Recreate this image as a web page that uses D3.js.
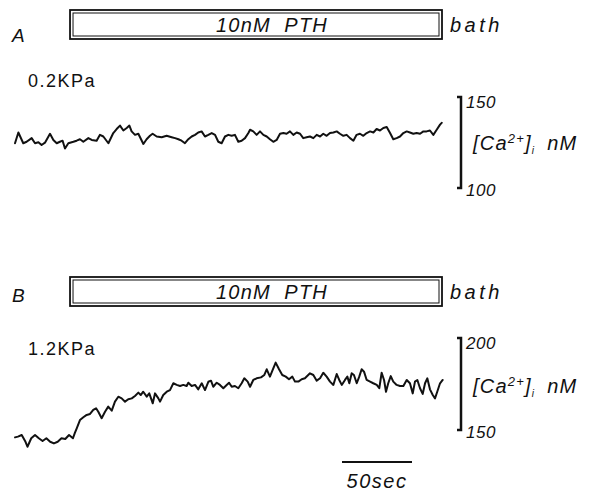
<!DOCTYPE html>
<html><head><meta charset="utf-8">
<script src="https://cdn.jsdelivr.net/npm/d3@7/dist/d3.min.js"></script>
<style>
body{margin:0;background:#fff}
svg{display:block}
text{font-family:"Liberation Sans",Arial,Helvetica,sans-serif;fill:#111}
</style>
</head><body>
<svg id="chart" width="598" height="493"></svg>
<script>
// ---- data (time in seconds, [Ca2+]i in nM) ----
const panelLabels = ["A", "B"];
const pressureLabels = ["0.2KPa", "1.2KPa"];
const drugLabel = "10nM  PTH";
const bathLabel = "bath";
const pthPeriod = [39.3, 305];          // seconds, PTH in bath
const scaleRangeA = [100, 150];         // nM
const scaleRangeB = [150, 200];         // nM
const timeBarSec = 50;
const timeBarLabel = "50sec";

const timeA = [0,2.4,5.9,8.3,11.9,14.3,16.7,19.0,21.4,25.0,27.4,29.8,32.1,34.0,35.7,38.1,41.7,44.0,46.4,48.8,52.4,54.8,58.3,60.7,63.1,66.7,70.2,72.6,75.0,77.4,79.8,81.7,83.3,85.7,88.1,91.7,94.0,96.4,98.3,101.2,104.8,108.3,111.9,114.3,116.7,119.0,121.4,123.8,126.2,128.6,130.9,133.3,135.7,138.1,140.5,142.9,145.2,147.6,150.0,152.4,154.8,157.1,159.5,161.9,164.3,166.7,167.9,170.2,172.6,175.0,177.4,179.8,182.1,184.5,186.9,189.3,191.7,194.0,196.4,198.8,201.2,203.6,205.9,208.3,210.7,213.1,215.5,217.9,220.2,222.6,225.0,227.4,229.8,232.1,234.5,236.9,239.3,241.7,244.0,246.4,248.8,251.2,253.6,256.0,258.3,260.7,263.1,265.5,267.9,270.2,272.6,275.0,277.4,279.8,282.1,284.5,286.9,289.3,291.7,294.0,296.4,298.8,301.2,303.6,304.8];
const valuesA = [124.6,130.5,124.6,125.4,127.4,124.6,125.1,123.6,124.9,129.8,126.4,124.6,125.4,126.0,121.7,124.6,125.4,126.0,126.8,125.4,127.4,126.4,126.0,129.2,128.3,124.6,130.2,132.4,134.3,131.6,133.0,134.3,131.1,129.2,129.8,124.2,126.8,128.7,129.8,128.3,127.9,128.7,127.9,127.4,126.8,126.0,124.6,126.8,128.3,129.2,130.5,131.1,128.3,129.2,130.2,129.2,125.4,124.6,128.3,129.2,128.7,129.2,125.4,126.0,127.4,130.2,132.0,131.1,129.2,131.1,129.2,128.3,126.8,125.4,126.4,129.8,130.2,129.8,131.1,129.2,130.5,129.8,127.4,127.9,128.3,127.4,129.2,128.3,129.8,128.7,130.2,130.5,131.1,129.8,128.7,129.2,127.4,126.0,129.2,129.8,128.7,130.2,131.1,130.5,132.4,131.6,133.0,133.5,130.2,126.8,127.4,128.3,130.2,131.1,130.5,129.8,130.2,129.8,131.1,131.1,131.6,129.2,132.0,134.8,135.8];

const timeB = [0,2.1,4.8,7.5,8.9,11.6,14.3,17.0,19.7,22.4,25.1,27.8,30.5,33.2,35.9,38.6,41.4,42.7,44.1,46.4,48.8,51.2,53.6,55.9,57.9,59.5,61.9,64.3,66.6,69.1,71.4,73.8,76.2,78.6,80.9,83.4,85.7,88.1,89.8,91.6,94.1,95.9,98.4,100.0,102.4,103.6,105.9,108.4,110.7,113.1,115.5,117.9,120.2,122.6,123.8,126.2,128.6,130.9,133.4,135.7,138.1,140.0,141.6,144.1,146.4,148.8,151.2,152.9,154.8,157.1,159.5,161.9,163.8,166.2,167.9,170.2,172.6,175.7,178.1,179.8,182.1,184.5,186.2,188.6,190.9,193.4,195.7,198.1,200.0,202.4,204.8,207.1,210.7,213.1,215.5,217.9,220.2,222.6,225.0,227.4,229.8,231.6,233.4,235.7,237.4,238.8,240.5,242.1,244.1,245.9,247.6,249.3,251.2,253.6,255.9,258.4,260.2,261.9,263.6,265.0,266.6,268.4,270.2,272.6,275.0,277.4,279.8,282.1,284.1,285.7,287.4,289.3,291.2,292.9,294.5,296.4,298.4,300.0,301.6,303.6,305.5];
const valuesB = [146.0,146.4,147.3,143.6,140.9,145.5,147.3,145.5,144.0,145.5,143.6,142.7,143.6,145.5,145.1,147.3,145.5,148.3,150.9,155.4,156.9,158.2,158.7,160.9,161.8,159.9,156.4,159.9,162.7,160.5,165.4,168.1,167.2,165.4,166.7,167.2,168.5,170.3,169.0,170.8,168.1,169.9,164.5,169.9,167.2,165.4,169.0,170.8,171.7,175.4,174.5,173.9,174.5,173.9,175.7,173.9,174.5,172.1,175.4,171.7,176.2,176.8,173.5,175.7,174.5,172.7,174.5,175.7,173.5,173.9,172.7,175.4,178.1,176.3,173.5,177.2,178.1,178.6,179.9,183.0,179.0,183.5,186.6,183.0,179.9,179.0,177.6,179.0,176.3,176.3,177.6,178.1,180.8,179.9,176.8,178.1,181.1,179.0,176.3,174.5,180.4,177.2,174.5,177.2,179.0,175.4,180.8,179.9,175.4,179.0,183.0,181.7,177.2,176.3,175.4,174.5,172.7,181.1,177.2,170.8,175.4,179.3,176.3,174.5,173.9,173.9,177.2,175.4,169.9,176.3,177.2,172.7,169.6,175.4,178.1,172.1,169.0,167.2,170.8,175.4,177.2];

// ---- drawing ----
const svg = d3.select("#chart");
const x = d3.scaleLinear().domain([0, 305]).range([15, 442]);

const panels = [
  {label: panelLabels[0], pressure: pressureLabels[0], t: timeA, v: valuesA, range: scaleRangeA,
   yRange: [188, 97], top: 10, labelY: 42, pressY: 87, calY: 143},
  {label: panelLabels[1], pressure: pressureLabels[1], t: timeB, v: valuesB, range: scaleRangeB,
   yRange: [430, 338], top: 277, labelY: 302, pressY: 355, calY: 386}
];

const barX = 461;

panels.forEach(p => {
  const y = d3.scaleLinear().domain(p.range).range(p.yRange);
  const g = svg.append("g");

  // panel letter
  g.append("text").attr("x", 12).attr("y", p.labelY)
    .attr("font-size", 19).attr("font-style", "italic").text(p.label);

  // drug application box (double frame)
  const bx0 = x(pthPeriod[0]), bx1 = x(pthPeriod[1]);
  g.append("rect").attr("x", bx0).attr("y", p.top).attr("width", bx1 - bx0).attr("height", 29)
    .attr("fill", "#fff").attr("stroke", "#111").attr("stroke-width", 1.8);
  g.append("rect").attr("x", bx0 + 3).attr("y", p.top + 3).attr("width", bx1 - bx0 - 6).attr("height", 23)
    .attr("fill", "none").attr("stroke", "#111").attr("stroke-width", 1);
  g.append("text").attr("x", (bx0 + bx1) / 2 + 16).attr("y", p.top + 22)
    .attr("text-anchor", "middle").attr("font-size", 20).attr("font-style", "italic")
    .attr("letter-spacing", 1.2).attr("xml:space", "preserve").text(drugLabel);
  g.append("text").attr("x", bx1 + 8).attr("y", p.top + 22)
    .attr("font-size", 20).attr("font-style", "italic").attr("letter-spacing", 3.5).text(bathLabel);

  // pressure label
  g.append("text").attr("x", 28).attr("y", p.pressY)
    .attr("font-size", 18).attr("letter-spacing", 1.5).text(p.pressure);

  // trace
  const line = d3.line().x((d, i) => x(p.t[i])).y(d => y(d));
  g.append("path").datum(p.v).attr("d", line)
    .attr("fill", "none").attr("stroke", "#111").attr("stroke-width", 2)
    .attr("stroke-linejoin", "round").attr("stroke-linecap", "round");

  // calibration bar
  const yTop = y(p.range[1]), yBot = y(p.range[0]);
  g.append("path")
    .attr("d", `M${barX - 4},${yTop}H${barX}V${yBot}H${barX - 4}`)
    .attr("fill", "none").attr("stroke", "#111").attr("stroke-width", 2.5);
  g.append("text").attr("x", barX + 5).attr("y", yTop + 11)
    .attr("font-size", 17).attr("font-style", "italic").attr("letter-spacing", 0.5).text(p.range[1]);
  g.append("text").attr("x", barX + 5).attr("y", yBot + 8)
    .attr("font-size", 17).attr("font-style", "italic").attr("letter-spacing", 0.5).text(p.range[0]);

  // [Ca2+]i nM label
  const t = g.append("text").attr("x", barX + 12).attr("y", p.calY + 7)
    .attr("font-size", 20).attr("font-style", "italic").attr("letter-spacing", 1.2);
  t.append("tspan").text("[Ca");
  t.append("tspan").attr("dy", -7).attr("font-size", 13).text("2+");
  t.append("tspan").attr("dy", 7).text("]");
  t.append("tspan").attr("dy", 4).attr("font-size", 10).text("i");
  t.append("tspan").attr("dy", -4).attr("dx", 12).text("nM");
});

// time scale bar
const tb0 = 342;
const tbx = d3.scaleLinear().domain([0, timeBarSec]).range([tb0, tb0 + (x(timeBarSec) - x(0))]);
svg.append("line").attr("x1", tbx(0)).attr("x2", tbx(timeBarSec)).attr("y1", 462).attr("y2", 462)
  .attr("stroke", "#111").attr("stroke-width", 2);
svg.append("text").attr("x", (tbx(0) + tbx(timeBarSec)) / 2).attr("y", 488)
  .attr("text-anchor", "middle").attr("font-size", 20).attr("font-style", "italic")
  .attr("letter-spacing", 1.5).text(timeBarLabel);
</script>
</body></html>
